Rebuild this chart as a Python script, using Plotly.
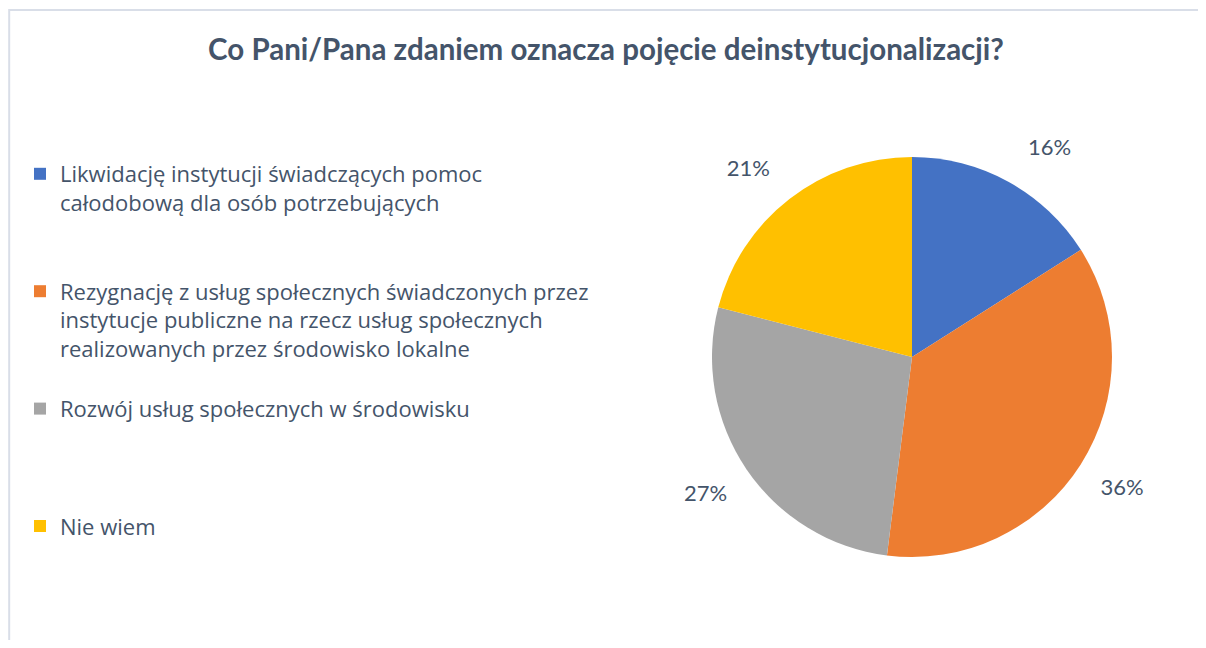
import plotly.graph_objects as go

# data
labels = [
    "Likwidację instytucji świadczących pomoc<br>całodobową dla osób potrzebujących",
    "Rezygnację z usług społecznych świadczonych przez<br>instytucje publiczne na rzecz usług społecznych<br>realizowanych przez środowisko lokalne",
    "Rozwój usług społecznych w środowisku",
    "Nie wiem",
]
values = [16, 36, 27, 21]
colors = ["#4472C4", "#ED7D31", "#A5A5A5", "#FFC000"]

# pad legend entries so each one takes the same height, like Excel does
pad_lines = [2, 1, 3, 0]
legend_labels = [lab + "<br>&nbsp;" * n for lab, n in zip(labels, pad_lines)]

# nudge the outside labels a little further from the pie (Excel best fit)
label_templates = [
    "&nbsp;%{percent:.0%}<br>&nbsp;",
    "&nbsp;<br>&nbsp;%{percent:.0%}",
    "&nbsp;<br>%{percent:.0%}&nbsp;",
    "%{percent:.0%}&nbsp;<br>&nbsp;",
]

TEXT = "#44546A"
FONT = "Lato, sans-serif"
LEGEND_FONT = "Open Sans, sans-serif"

# the page body has an 8px margin, so lay out in a slightly smaller figure
W, H, OFF = 1190, 632, 8


def xp(px):
    return (px - OFF) / W


def yp(py):
    return 1 - (py - OFF) / H


fig = go.Figure(go.Pie(
    labels=legend_labels,
    values=values,
    sort=False,
    direction="clockwise",
    rotation=0,
    marker=dict(colors=colors, line=dict(color="white", width=0)),
    texttemplate=label_templates,
    textposition="outside",
    textfont=dict(size=22, color=TEXT, family=FONT),
    domain=dict(x=[xp(712), xp(1112)], y=[yp(557), yp(157)]),
    hoverinfo="label+percent",
))

# chart-area border: only the top and left edges are in view
top = yp(10)
border_path = f"M 0.001,-0.1 L 0.001,{top} L 1.1,{top}"

fig.update_layout(
    width=W, height=H,
    margin=dict(l=0, r=0, t=0, b=0),
    paper_bgcolor="white",
    font=dict(family=FONT, color=TEXT),
    title=dict(
        text="<b>Co Pani/Pana zdaniem oznacza pojęcie deinstytucjonalizacji?</b>",
        x=xp(606), xanchor="center", y=yp(50), yanchor="middle",
        font=dict(size=29.5, color=TEXT, family=FONT),
    ),
    legend=dict(
        x=xp(20), xanchor="left", y=yp(153), yanchor="top",
        valign="top",
        font=dict(size=22, color=TEXT, family=LEGEND_FONT),
        bgcolor="rgba(0,0,0,0)",
    ),
    shapes=[dict(
        type="path", xref="paper", yref="paper",
        path=border_path,
        line=dict(color="#D9DEE8", width=2),
    )],
)

fig.write_html("out.html")
